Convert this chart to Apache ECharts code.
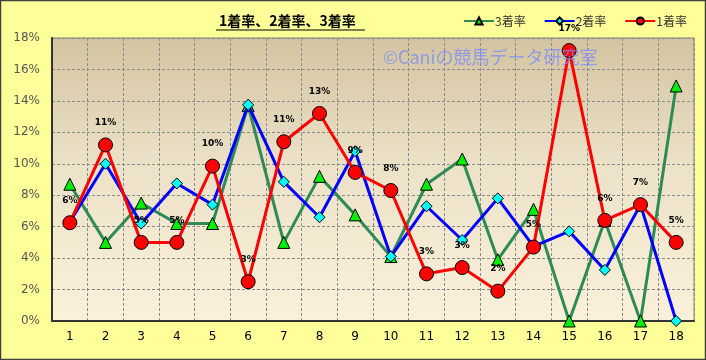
<!DOCTYPE html>
<html><head><meta charset="utf-8">
<script src="https://cdn.jsdelivr.net/npm/echarts@6/dist/echarts.min.js"></script>
<style>html,body{margin:0;padding:0;background:#ffff99}#c{width:706px;height:360px}</style>
</head><body><div id="c"></div>
<script>
const categories = ['1','2','3','4','5','6','7','8','9','10','11','12','13','14','15','16','17','18'];
const rate3 = [8.7,5.0,7.5,6.2,6.2,13.7,5.0,9.2,6.75,4.1,8.7,10.3,3.9,7.1,0,6.4,0,14.95];
const rate2 = [6.3,10.0,6.2,8.75,7.4,13.75,8.85,6.6,10.8,4.1,7.3,5.15,7.8,4.75,5.7,3.25,7.4,0];
const rate1 = [6.25,11.2,5.0,5.0,9.85,2.5,11.4,13.2,9.45,8.3,3.0,3.4,1.9,4.7,17.2,6.4,7.4,5.0];
const yTicks = [0,2,4,6,8,10,12,14,16,18];
const seriesNames = ['3着率','2着率','1着率'];

const chart = echarts.init(document.getElementById('c'));
const ff = '"Noto Sans CJK JP", "DejaVu Sans", sans-serif';
chart.setOption({
  animation:false,
  backgroundColor:'#ffff99',
  title:{text:'1着率、2着率、3着率',left:214,top:9,textStyle:{fontSize:14,fontWeight:'bold',color:'#000',fontFamily:ff,textBorderWidth:0}},
  graphic:[
    {type:'rect',shape:{x:0.5,y:0.5,width:705,height:359},style:{fill:'none',stroke:'#404040',lineWidth:1.5},silent:true,z:100},
    {type:'line',shape:{x1:216,y1:30,x2:365,y2:30},style:{stroke:'#000',lineWidth:1},silent:true},
    {type:'text',left:383,top:48,z:50,style:{text:'©Caniの競馬データ研究室',fontSize:18,fill:'rgba(120,140,250,0.75)',fontFamily:ff},silent:true}
  ],
  legend:{data:seriesNames,left:458,top:10,itemGap:18,itemWidth:30,itemHeight:9,
    textStyle:{fontSize:12,color:'#333',fontFamily:ff,padding:[0,0,0,-4]}},
  grid:{left:52,right:12,top:38,bottom:39,show:true,borderColor:'#808080',borderWidth:1,
    backgroundColor:new echarts.graphic.LinearGradient(0,0,0,1,[{offset:0,color:'#d3c3a0'},{offset:0.45,color:'#ece2c8'},{offset:1,color:'#fbf0da'}])},
  xAxis:{type:'category',data:categories,boundaryGap:true,
    axisLine:{lineStyle:{color:'#333',width:2}},axisTick:{show:false},
    axisLabel:{color:'#000',fontSize:12,margin:10,fontFamily:'"DejaVu Sans", sans-serif'},
    splitLine:{show:true,interval:0,lineStyle:{color:'#8a8a8a',type:[3,2],width:1}}},
  yAxis:{type:'value',min:0,max:18,interval:2,
    axisLine:{show:true,lineStyle:{color:'#333',width:2}},axisTick:{show:false},
    axisLabel:{color:'#555',fontSize:12,margin:12,formatter:v=>v+'%',fontFamily:'"DejaVu Sans", sans-serif'},
    splitLine:{lineStyle:{color:'#8a8a8a',type:[3,2],width:1}}},
  series:[
    {name:seriesNames[0],type:'line',data:rate3,symbol:'triangle',symbolSize:12,
      lineStyle:{color:'#2e8b57',width:3},itemStyle:{color:'#00ee00',borderColor:'#000',borderWidth:1},z:2},
    {name:seriesNames[1],type:'line',data:rate2,symbol:'diamond',symbolSize:11,
      lineStyle:{color:'#0000ff',width:3},itemStyle:{color:'#00ffff',borderColor:'#000',borderWidth:1},z:3},
    {name:seriesNames[2],type:'line',data:rate1,symbol:'circle',symbolSize:14,
      lineStyle:{color:'#ff0000',width:3},itemStyle:{color:'#ff0000',borderColor:'#000',borderWidth:1},z:4,
      label:{show:true,position:'top',distance:10,fontSize:9,fontWeight:'bold',color:'#000',fontFamily:'"DejaVu Sans", sans-serif',
        formatter:p=>Math.round(p.value)+'%'}}
  ]
});
</script></body></html>
